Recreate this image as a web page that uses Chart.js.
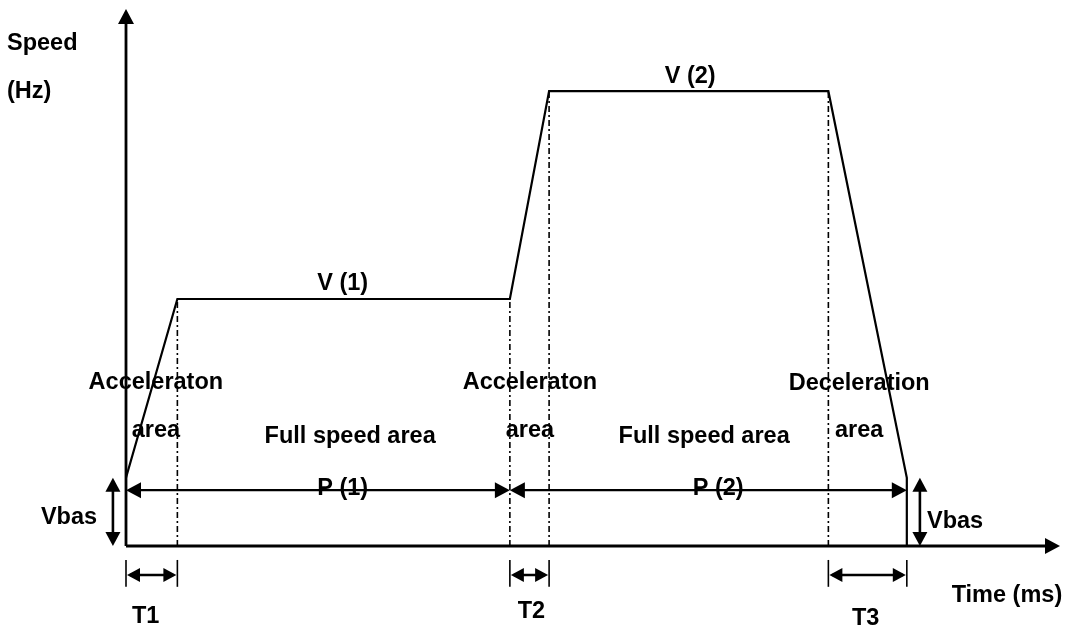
<!DOCTYPE html>
<html lang="en">
<head>
    <meta charset="UTF-8">
    <title>Speed profile</title>
    <script src="https://cdn.jsdelivr.net/npm/chart.js"></script>
    <style>
        body { margin: 0; background: #fff; }
        canvas { display: block; }
    </style>
</head>
<body>
    <canvas id="profileChart" width="1067" height="630"></canvas>

    <script>
        // Time break points (arbitrary units): end of accel 1, end of P(1), end of accel 2, start of decel, stop
        const times = [0, 5.5, 41.1, 45.3, 75.2, 83.6];
        // Speed levels (arbitrary units)
        const vBas = 12.7;
        const v1 = 46.0;
        const v2 = 84.7;
        const speeds = [vBas, v1, v1, v2, v2, vBas];

        // Axis extents
        const xMax = 100;
        const yMax = 100;

        // Dimension arrows: P spans at pLevel, T spans below the axis at tLevel
        const pSpans = [[times[0], times[2]], [times[2], times[5]]];
        const pLevel = 10.4;
        const tSpans = [[times[0], times[1]], [times[2], times[3]], [times[4], times[5]]];
        const tLevel = -5.4;
        const tTick = [-2.6, -7.6];
        const vbasX = [-1.4, 85.0];

        // Text labels: [text, x, y, align]
        const labels = [
            ['Speed', -12.74, 92.4, 'left'],
            ['(Hz)', -12.74, 83.4, 'left'],
            ['V (1)', 23.2, 47.7, 'center'],
            ['V (2)', 60.4, 86.2, 'center'],
            ['Acceleraton', 3.2, 29.2, 'center'],
            ['area', 3.2, 20.3, 'center'],
            ['Acceleraton', 43.25, 29.2, 'center'],
            ['area', 43.25, 20.3, 'center'],
            ['Deceleration', 78.5, 29.05, 'center'],
            ['area', 78.5, 20.3, 'center'],
            ['Full speed area', 24.0, 19.2, 'center'],
            ['Full speed area', 61.9, 19.2, 'center'],
            ['P (1)', 23.2, 9.5, 'center'],
            ['P (2)', 63.4, 9.5, 'center'],
            ['Vbas', -3.1, 4.1, 'right'],
            ['Vbas', 85.76, 3.35, 'left'],
            ['Time (ms)', 88.4, -10.4, 'left'],
            ['T1', 2.1, -14.3, 'center'],
            ['T2', 43.4, -13.4, 'center'],
            ['T3', 79.2, -14.7, 'center']
        ];

        // profile line, dropping to zero at the stop time
        const profile = times.map((t, i) => ({ x: t, y: speeds[i] }));
        profile.push({ x: times[5], y: 0 });

        // dash-dot guides at each break point
        const guides = [1, 2, 3, 4].map(i => ({
            data: [{ x: times[i], y: 0 }, { x: times[i], y: speeds[i] }],
            borderColor: '#000',
            borderWidth: 1.6,
            borderDash: [6, 3, 2, 3],
            pointRadius: 0,
            fill: false
        }));

        function head(ctx, x, y, dx, dy, len, half) {
            // filled triangle with its tip at (x, y) pointing along (dx, dy)
            ctx.beginPath();
            ctx.moveTo(x, y);
            ctx.lineTo(x - dx * len - dy * half, y - dy * len + dx * half);
            ctx.lineTo(x - dx * len + dy * half, y - dy * len - dx * half);
            ctx.closePath();
            ctx.fill();
        }

        function line(ctx, x1, y1, x2, y2, w) {
            ctx.lineWidth = w;
            ctx.beginPath();
            ctx.moveTo(x1, y1);
            ctx.lineTo(x2, y2);
            ctx.stroke();
        }

        const diagram = {
            id: 'diagram',
            afterDatasetsDraw(chart) {
                const ctx = chart.ctx;
                const xs = chart.scales.x, ys = chart.scales.y;
                const px = v => xs.getPixelForValue(v);
                const py = v => ys.getPixelForValue(v);
                ctx.save();
                ctx.strokeStyle = '#000';
                ctx.fillStyle = '#000';

                // axes with arrow tips
                const ox = px(0), oy = py(0);
                line(ctx, ox, oy, ox, py(yMax) + 10, 2.8);
                head(ctx, ox, py(yMax), 0, -1, 15, 8);
                line(ctx, ox, oy, px(xMax) - 10, oy, 2.8);
                head(ctx, px(xMax), oy, 1, 0, 15, 8);

                // P spans
                pSpans.forEach(([a, b]) => {
                    const y = py(pLevel);
                    line(ctx, px(a) + 4, y, px(b) - 4, y, 2.2);
                    head(ctx, px(a), y, -1, 0, 15, 8);
                    head(ctx, px(b), y, 1, 0, 15, 8);
                });

                // Vbas spans
                vbasX.forEach(v => {
                    const x = px(v);
                    line(ctx, x, py(0) - 4, x, py(vBas) + 4, 2.6);
                    head(ctx, x, py(vBas), 0, -1, 14, 7.5);
                    head(ctx, x, py(0), 0, 1, 14, 7.5);
                });

                // T spans with end ticks
                tSpans.forEach(([a, b]) => {
                    const y = py(tLevel);
                    const xa = px(a), xb = px(b);
                    line(ctx, xa, py(tTick[0]), xa, py(tTick[1]), 1.6);
                    line(ctx, xb, py(tTick[0]), xb, py(tTick[1]), 1.6);
                    line(ctx, xa + 4, y, xb - 4, y, 2.6);
                    head(ctx, xa + 1, y, -1, 0, 13, 7);
                    head(ctx, xb - 1, y, 1, 0, 13, 7);
                });

                // text
                ctx.font = 'bold 23.5px "Liberation Sans", Arial, sans-serif';
                ctx.textBaseline = 'alphabetic';
                labels.forEach(([text, x, y, align]) => {
                    ctx.textAlign = align;
                    ctx.fillText(text, px(x), py(y));
                });
                ctx.restore();
            }
        };

        new Chart(document.getElementById('profileChart'), {
            type: 'line',
            data: {
                datasets: [{
                    data: profile,
                    borderColor: '#000',
                    borderWidth: 2.2,
                    pointRadius: 0,
                    tension: 0,
                    fill: false
                }, ...guides]
            },
            options: {
                responsive: false,
                animation: false,
                layout: { padding: { left: 126, right: 7, top: 9, bottom: 84 } },
                plugins: {
                    legend: { display: false },
                    tooltip: { enabled: false }
                },
                scales: {
                    x: { type: 'linear', min: 0, max: xMax, display: false },
                    y: { type: 'linear', min: 0, max: yMax, display: false }
                }
            },
            plugins: [diagram]
        });
    </script>
</body>
</html>
